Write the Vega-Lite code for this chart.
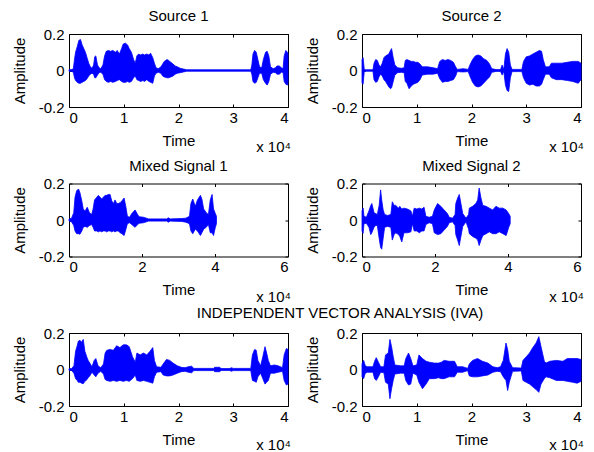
{
  "$schema": "https://vega.github.io/schema/vega-lite/v6.json",
  "padding": {"left": 11, "top": 8, "right": 5, "bottom": 3},
  "config": {
    "font": "Liberation Sans",
    "view": {"stroke": "#000000", "strokeWidth": 1},
    "title": {"fontSize": 15, "fontWeight": "normal", "color": "#000000", "offset": 3, "font": "Liberation Sans"},
    "axis": {"grid": false, "domain": false, "tickColor": "#000000", "tickSize": -3, "labelFontSize": 15, "labelColor": "#000000", "titleFontSize": 15, "titleFontWeight": "normal", "titleColor": "#000000", "labelFont": "Liberation Sans", "titleFont": "Liberation Sans"},
    "axisLeft": {"titlePadding": 11},
    "axisBottom": {"titlePadding": 8},
    "text": {"font": "Liberation Sans", "fontSize": 15, "color": "#000000"}
  },
  "datasets": {
    "s1": [
      {"t":0,"hi":0.004,"lo":-0.004},{"t":0.05,"hi":0.005,"lo":-0.005},{"t":0.08,"hi":0.01,"lo":-0.01},{"t":0.1,"hi":0.06,"lo":-0.04},{"t":0.12,"hi":0.1,"lo":-0.055},{"t":0.15,"hi":0.13,"lo":-0.065},{"t":0.18,"hi":0.165,"lo":-0.07},{"t":0.21,"hi":0.17,"lo":-0.07},{"t":0.24,"hi":0.14,"lo":-0.065},{"t":0.27,"hi":0.12,"lo":-0.06},{"t":0.3,"hi":0.1,"lo":-0.055},{"t":0.33,"hi":0.07,"lo":-0.045},{"t":0.36,"hi":0.04,"lo":-0.03},{"t":0.39,"hi":0.02,"lo":-0.02},{"t":0.42,"hi":0.012,"lo":-0.015},{"t":0.45,"hi":0.03,"lo":-0.02},{"t":0.47,"hi":0.075,"lo":-0.04},{"t":0.49,"hi":0.08,"lo":-0.04},{"t":0.52,"hi":0.03,"lo":-0.025},{"t":0.55,"hi":0.015,"lo":-0.012},{"t":0.58,"hi":0.01,"lo":-0.01},{"t":0.62,"hi":0.03,"lo":-0.02},{"t":0.65,"hi":0.08,"lo":-0.05},{"t":0.68,"hi":0.105,"lo":-0.06},{"t":0.72,"hi":0.11,"lo":-0.065},{"t":0.76,"hi":0.105,"lo":-0.06},{"t":0.8,"hi":0.11,"lo":-0.065},{"t":0.85,"hi":0.1,"lo":-0.06},{"t":0.88,"hi":0.11,"lo":-0.055},{"t":0.92,"hi":0.09,"lo":-0.05},{"t":0.96,"hi":0.12,"lo":-0.06},{"t":0.99,"hi":0.145,"lo":-0.065},{"t":1.03,"hi":0.15,"lo":-0.065},{"t":1.07,"hi":0.14,"lo":-0.06},{"t":1.1,"hi":0.12,"lo":-0.065},{"t":1.14,"hi":0.1,"lo":-0.06},{"t":1.18,"hi":0.06,"lo":-0.04},{"t":1.21,"hi":0.04,"lo":-0.03},{"t":1.24,"hi":0.08,"lo":-0.05},{"t":1.27,"hi":0.09,"lo":-0.055},{"t":1.31,"hi":0.085,"lo":-0.06},{"t":1.35,"hi":0.09,"lo":-0.055},{"t":1.38,"hi":0.085,"lo":-0.06},{"t":1.42,"hi":0.09,"lo":-0.05},{"t":1.46,"hi":0.085,"lo":-0.06},{"t":1.49,"hi":0.095,"lo":-0.065},{"t":1.53,"hi":0.07,"lo":-0.07},{"t":1.56,"hi":0.04,"lo":-0.03},{"t":1.59,"hi":0.015,"lo":-0.015},{"t":1.63,"hi":0.01,"lo":-0.01},{"t":1.68,"hi":0.02,"lo":-0.015},{"t":1.71,"hi":0.035,"lo":-0.03},{"t":1.74,"hi":0.05,"lo":-0.035},{"t":1.79,"hi":0.06,"lo":-0.04},{"t":1.82,"hi":0.055,"lo":-0.04},{"t":1.86,"hi":0.045,"lo":-0.035},{"t":1.9,"hi":0.035,"lo":-0.03},{"t":1.94,"hi":0.025,"lo":-0.02},{"t":1.98,"hi":0.02,"lo":-0.015},{"t":2.03,"hi":0.012,"lo":-0.012},{"t":2.09,"hi":0.008,"lo":-0.008},{"t":2.15,"hi":0.004,"lo":-0.004},{"t":3.32,"hi":0.004,"lo":-0.004},{"t":3.34,"hi":0.03,"lo":-0.02},{"t":3.36,"hi":0.09,"lo":-0.06},{"t":3.39,"hi":0.11,"lo":-0.07},{"t":3.42,"hi":0.1,"lo":-0.065},{"t":3.45,"hi":0.06,"lo":-0.04},{"t":3.48,"hi":0.02,"lo":-0.015},{"t":3.52,"hi":0.015,"lo":-0.015},{"t":3.55,"hi":0.06,"lo":-0.05},{"t":3.59,"hi":0.1,"lo":-0.07},{"t":3.62,"hi":0.105,"lo":-0.08},{"t":3.65,"hi":0.08,"lo":-0.06},{"t":3.68,"hi":0.02,"lo":-0.02},{"t":3.73,"hi":0.01,"lo":-0.01},{"t":3.77,"hi":0.015,"lo":-0.012},{"t":3.8,"hi":0.025,"lo":-0.02},{"t":3.84,"hi":0.025,"lo":-0.02},{"t":3.88,"hi":0.015,"lo":-0.01},{"t":3.91,"hi":0.01,"lo":-0.01},{"t":3.93,"hi":0.08,"lo":-0.06},{"t":3.96,"hi":0.11,"lo":-0.075},{"t":3.99,"hi":0.1,"lo":-0.08},{"t":4,"hi":0.09,"lo":-0.07}
    ],
    "s2": [
      {"t":0,"hi":0.06,"lo":-0.07},{"t":0.02,"hi":0.07,"lo":-0.075},{"t":0.04,"hi":0.01,"lo":-0.01},{"t":0.06,"hi":0.004,"lo":-0.004},{"t":0.2,"hi":0.004,"lo":-0.004},{"t":0.22,"hi":0.04,"lo":-0.05},{"t":0.25,"hi":0.06,"lo":-0.065},{"t":0.28,"hi":0.055,"lo":-0.06},{"t":0.31,"hi":0.03,"lo":-0.035},{"t":0.34,"hi":0.02,"lo":-0.02},{"t":0.37,"hi":0.04,"lo":-0.03},{"t":0.4,"hi":0.07,"lo":-0.05},{"t":0.43,"hi":0.08,"lo":-0.06},{"t":0.46,"hi":0.085,"lo":-0.075},{"t":0.49,"hi":0.09,"lo":-0.09},{"t":0.52,"hi":0.11,"lo":-0.1},{"t":0.54,"hi":0.12,"lo":-0.095},{"t":0.57,"hi":0.07,"lo":-0.06},{"t":0.6,"hi":0.03,"lo":-0.025},{"t":0.65,"hi":0.015,"lo":-0.012},{"t":0.72,"hi":0.012,"lo":-0.01},{"t":0.77,"hi":0.015,"lo":-0.012},{"t":0.79,"hi":0.055,"lo":-0.06},{"t":0.82,"hi":0.06,"lo":-0.07},{"t":0.86,"hi":0.055,"lo":-0.1},{"t":0.9,"hi":0.05,"lo":-0.085},{"t":0.94,"hi":0.05,"lo":-0.075},{"t":0.98,"hi":0.045,"lo":-0.07},{"t":1.02,"hi":0.045,"lo":-0.065},{"t":1.06,"hi":0.035,"lo":-0.05},{"t":1.1,"hi":0.02,"lo":-0.025},{"t":1.2,"hi":0.02,"lo":-0.02},{"t":1.3,"hi":0.015,"lo":-0.02},{"t":1.38,"hi":0.01,"lo":-0.015},{"t":1.42,"hi":0.05,"lo":-0.045},{"t":1.47,"hi":0.06,"lo":-0.065},{"t":1.52,"hi":0.055,"lo":-0.06},{"t":1.57,"hi":0.06,"lo":-0.06},{"t":1.62,"hi":0.055,"lo":-0.055},{"t":1.67,"hi":0.045,"lo":-0.05},{"t":1.71,"hi":0.02,"lo":-0.03},{"t":1.74,"hi":0.006,"lo":-0.006},{"t":1.85,"hi":0.01,"lo":-0.008},{"t":1.94,"hi":0.006,"lo":-0.006},{"t":1.97,"hi":0.03,"lo":-0.03},{"t":2.02,"hi":0.06,"lo":-0.065},{"t":2.07,"hi":0.08,"lo":-0.085},{"t":2.12,"hi":0.085,"lo":-0.09},{"t":2.17,"hi":0.08,"lo":-0.085},{"t":2.22,"hi":0.065,"lo":-0.07},{"t":2.28,"hi":0.055,"lo":-0.05},{"t":2.33,"hi":0.035,"lo":-0.035},{"t":2.37,"hi":0.01,"lo":-0.01},{"t":2.45,"hi":0.005,"lo":-0.005},{"t":2.53,"hi":0.005,"lo":-0.005},{"t":2.56,"hi":0.03,"lo":-0.025},{"t":2.59,"hi":0.005,"lo":-0.005},{"t":2.62,"hi":0.09,"lo":-0.08},{"t":2.65,"hi":0.12,"lo":-0.11},{"t":2.68,"hi":0.1,"lo":-0.115},{"t":2.71,"hi":0.03,"lo":-0.04},{"t":2.74,"hi":0.006,"lo":-0.006},{"t":2.92,"hi":0.006,"lo":-0.006},{"t":2.95,"hi":0.05,"lo":-0.04},{"t":3,"hi":0.075,"lo":-0.07},{"t":3.06,"hi":0.08,"lo":-0.08},{"t":3.12,"hi":0.09,"lo":-0.075},{"t":3.18,"hi":0.1,"lo":-0.085},{"t":3.24,"hi":0.11,"lo":-0.085},{"t":3.28,"hi":0.105,"lo":-0.075},{"t":3.31,"hi":0.06,"lo":-0.05},{"t":3.35,"hi":0.02,"lo":-0.02},{"t":3.42,"hi":0.02,"lo":-0.02},{"t":3.46,"hi":0.04,"lo":-0.04},{"t":3.55,"hi":0.04,"lo":-0.05},{"t":3.65,"hi":0.04,"lo":-0.05},{"t":3.75,"hi":0.045,"lo":-0.055},{"t":3.85,"hi":0.05,"lo":-0.06},{"t":3.95,"hi":0.05,"lo":-0.07},{"t":4,"hi":0.04,"lo":-0.05}
    ],
    "m1": [
      {"t":0,"hi":0.005,"lo":-0.005},{"t":0.07,"hi":0.01,"lo":-0.01},{"t":0.13,"hi":0.04,"lo":-0.03},{"t":0.165,"hi":0.125,"lo":-0.06},{"t":0.21,"hi":0.16,"lo":-0.075},{"t":0.26,"hi":0.17,"lo":-0.075},{"t":0.3,"hi":0.15,"lo":-0.078},{"t":0.35,"hi":0.105,"lo":-0.06},{"t":0.39,"hi":0.06,"lo":-0.04},{"t":0.44,"hi":0.05,"lo":-0.035},{"t":0.5,"hi":0.07,"lo":-0.04},{"t":0.56,"hi":0.04,"lo":-0.03},{"t":0.62,"hi":0.03,"lo":-0.025},{"t":0.66,"hi":0.06,"lo":-0.04},{"t":0.7,"hi":0.11,"lo":-0.06},{"t":0.76,"hi":0.125,"lo":-0.06},{"t":0.805,"hi":0.135,"lo":-0.065},{"t":0.85,"hi":0.125,"lo":-0.06},{"t":0.9,"hi":0.115,"lo":-0.065},{"t":0.94,"hi":0.125,"lo":-0.06},{"t":0.99,"hi":0.135,"lo":-0.06},{"t":1.03,"hi":0.135,"lo":-0.065},{"t":1.08,"hi":0.14,"lo":-0.06},{"t":1.125,"hi":0.14,"lo":-0.06},{"t":1.17,"hi":0.105,"lo":-0.065},{"t":1.22,"hi":0.09,"lo":-0.06},{"t":1.26,"hi":0.11,"lo":-0.065},{"t":1.31,"hi":0.09,"lo":-0.06},{"t":1.35,"hi":0.09,"lo":-0.06},{"t":1.4,"hi":0.095,"lo":-0.07},{"t":1.45,"hi":0.105,"lo":-0.075},{"t":1.51,"hi":0.12,"lo":-0.085},{"t":1.56,"hi":0.07,"lo":-0.05},{"t":1.6,"hi":0.02,"lo":-0.02},{"t":1.66,"hi":0.015,"lo":-0.015},{"t":1.72,"hi":0.035,"lo":-0.025},{"t":1.81,"hi":0.055,"lo":-0.04},{"t":1.88,"hi":0.03,"lo":-0.025},{"t":1.92,"hi":0.018,"lo":-0.018},{"t":2.04,"hi":0.015,"lo":-0.015},{"t":2.18,"hi":0.006,"lo":-0.006},{"t":2.68,"hi":0.006,"lo":-0.006},{"t":2.72,"hi":0.012,"lo":-0.012},{"t":2.77,"hi":0.006,"lo":-0.006},{"t":3.09,"hi":0.008,"lo":-0.008},{"t":3.2,"hi":0.01,"lo":-0.012},{"t":3.3,"hi":0.02,"lo":-0.02},{"t":3.34,"hi":0.09,"lo":-0.06},{"t":3.39,"hi":0.115,"lo":-0.075},{"t":3.46,"hi":0.075,"lo":-0.05},{"t":3.52,"hi":0.11,"lo":-0.06},{"t":3.6,"hi":0.135,"lo":-0.085},{"t":3.64,"hi":0.115,"lo":-0.07},{"t":3.69,"hi":0.06,"lo":-0.05},{"t":3.76,"hi":0.04,"lo":-0.04},{"t":3.82,"hi":0.03,"lo":-0.025},{"t":3.87,"hi":0.11,"lo":-0.07},{"t":3.92,"hi":0.14,"lo":-0.07},{"t":3.96,"hi":0.06,"lo":-0.085},{"t":4.01,"hi":0.035,"lo":-0.04},{"t":4.04,"hi":0.02,"lo":-0.02}
    ],
    "m2": [
      {"t":0,"hi":0.05,"lo":-0.06},{"t":0.03,"hi":0.065,"lo":-0.073},{"t":0.055,"hi":0.02,"lo":-0.02},{"t":0.12,"hi":0.015,"lo":-0.018},{"t":0.19,"hi":0.05,"lo":-0.04},{"t":0.24,"hi":0.08,"lo":-0.08},{"t":0.27,"hi":0.09,"lo":-0.07},{"t":0.33,"hi":0.04,"lo":-0.04},{"t":0.375,"hi":0.035,"lo":-0.03},{"t":0.42,"hi":0.03,"lo":-0.03},{"t":0.47,"hi":0.08,"lo":-0.1},{"t":0.51,"hi":0.165,"lo":-0.15},{"t":0.54,"hi":0.11,"lo":-0.16},{"t":0.58,"hi":0.055,"lo":-0.1},{"t":0.62,"hi":0.03,"lo":-0.04},{"t":0.7,"hi":0.025,"lo":-0.035},{"t":0.79,"hi":0.03,"lo":-0.04},{"t":0.83,"hi":0.1,"lo":-0.11},{"t":0.88,"hi":0.08,"lo":-0.08},{"t":0.925,"hi":0.08,"lo":-0.07},{"t":1,"hi":0.065,"lo":-0.08},{"t":1.035,"hi":0.075,"lo":-0.09},{"t":1.09,"hi":0.06,"lo":-0.12},{"t":1.15,"hi":0.065,"lo":-0.07},{"t":1.245,"hi":0.06,"lo":-0.07},{"t":1.34,"hi":0.05,"lo":-0.065},{"t":1.38,"hi":0.02,"lo":-0.02},{"t":1.43,"hi":0.065,"lo":-0.06},{"t":1.5,"hi":0.06,"lo":-0.06},{"t":1.57,"hi":0.065,"lo":-0.07},{"t":1.64,"hi":0.06,"lo":-0.06},{"t":1.7,"hi":0.07,"lo":-0.06},{"t":1.75,"hi":0.02,"lo":-0.025},{"t":1.84,"hi":0.015,"lo":-0.015},{"t":1.93,"hi":0.02,"lo":-0.02},{"t":1.98,"hi":0.055,"lo":-0.07},{"t":2.07,"hi":0.09,"lo":-0.08},{"t":2.16,"hi":0.075,"lo":-0.075},{"t":2.25,"hi":0.055,"lo":-0.055},{"t":2.34,"hi":0.035,"lo":-0.035},{"t":2.39,"hi":0.015,"lo":-0.015},{"t":2.48,"hi":0.01,"lo":-0.01},{"t":2.55,"hi":0.03,"lo":-0.03},{"t":2.57,"hi":0.09,"lo":-0.08},{"t":2.62,"hi":0.12,"lo":-0.11},{"t":2.665,"hi":0.14,"lo":-0.14},{"t":2.71,"hi":0.09,"lo":-0.09},{"t":2.76,"hi":0.035,"lo":-0.035},{"t":2.85,"hi":0.01,"lo":-0.01},{"t":2.92,"hi":0.03,"lo":-0.05},{"t":2.94,"hi":0.065,"lo":-0.075},{"t":3.03,"hi":0.075,"lo":-0.09},{"t":3.12,"hi":0.09,"lo":-0.1},{"t":3.17,"hi":0.11,"lo":-0.11},{"t":3.21,"hi":0.175,"lo":-0.14},{"t":3.26,"hi":0.12,"lo":-0.11},{"t":3.31,"hi":0.08,"lo":-0.085},{"t":3.4,"hi":0.075,"lo":-0.075},{"t":3.49,"hi":0.065,"lo":-0.065},{"t":3.58,"hi":0.055,"lo":-0.075},{"t":3.67,"hi":0.075,"lo":-0.075},{"t":3.76,"hi":0.065,"lo":-0.065},{"t":3.86,"hi":0.065,"lo":-0.075},{"t":3.95,"hi":0.055,"lo":-0.085},{"t":4.02,"hi":0.035,"lo":-0.04},{"t":4.06,"hi":0.02,"lo":-0.02}
    ],
    "i1": [
      {"t":0,"hi":0.004,"lo":-0.004},{"t":0.05,"hi":0.006,"lo":-0.006},{"t":0.09,"hi":0.02,"lo":-0.02},{"t":0.12,"hi":0.1,"lo":-0.05},{"t":0.15,"hi":0.13,"lo":-0.06},{"t":0.17,"hi":0.155,"lo":-0.07},{"t":0.2,"hi":0.16,"lo":-0.07},{"t":0.23,"hi":0.15,"lo":-0.075},{"t":0.26,"hi":0.165,"lo":-0.078},{"t":0.29,"hi":0.1,"lo":-0.065},{"t":0.33,"hi":0.065,"lo":-0.055},{"t":0.35,"hi":0.05,"lo":-0.045},{"t":0.38,"hi":0.035,"lo":-0.035},{"t":0.42,"hi":0.015,"lo":-0.015},{"t":0.46,"hi":0.05,"lo":-0.03},{"t":0.49,"hi":0.06,"lo":-0.04},{"t":0.53,"hi":0.02,"lo":-0.02},{"t":0.58,"hi":0.01,"lo":-0.01},{"t":0.63,"hi":0.03,"lo":-0.025},{"t":0.66,"hi":0.09,"lo":-0.055},{"t":0.69,"hi":0.105,"lo":-0.06},{"t":0.75,"hi":0.11,"lo":-0.065},{"t":0.81,"hi":0.105,"lo":-0.06},{"t":0.87,"hi":0.13,"lo":-0.065},{"t":0.93,"hi":0.12,"lo":-0.06},{"t":0.99,"hi":0.135,"lo":-0.065},{"t":1.05,"hi":0.135,"lo":-0.06},{"t":1.1,"hi":0.125,"lo":-0.065},{"t":1.16,"hi":0.07,"lo":-0.05},{"t":1.21,"hi":0.04,"lo":-0.03},{"t":1.24,"hi":0.09,"lo":-0.06},{"t":1.3,"hi":0.08,"lo":-0.065},{"t":1.36,"hi":0.09,"lo":-0.06},{"t":1.42,"hi":0.08,"lo":-0.065},{"t":1.48,"hi":0.1,"lo":-0.07},{"t":1.53,"hi":0.12,"lo":-0.075},{"t":1.56,"hi":0.05,"lo":-0.04},{"t":1.6,"hi":0.015,"lo":-0.015},{"t":1.68,"hi":0.012,"lo":-0.012},{"t":1.72,"hi":0.03,"lo":-0.03},{"t":1.78,"hi":0.055,"lo":-0.035},{"t":1.84,"hi":0.05,"lo":-0.035},{"t":1.9,"hi":0.035,"lo":-0.03},{"t":1.98,"hi":0.02,"lo":-0.02},{"t":2.05,"hi":0.012,"lo":-0.012},{"t":2.12,"hi":0.01,"lo":-0.01},{"t":2.18,"hi":0.015,"lo":-0.015},{"t":2.24,"hi":0.018,"lo":-0.018},{"t":2.28,"hi":0.006,"lo":-0.006},{"t":2.64,"hi":0.006,"lo":-0.006},{"t":2.66,"hi":0.012,"lo":-0.012},{"t":2.75,"hi":0.012,"lo":-0.012},{"t":2.78,"hi":0.005,"lo":-0.005},{"t":2.94,"hi":0.005,"lo":-0.005},{"t":2.96,"hi":0.01,"lo":-0.01},{"t":3,"hi":0.006,"lo":-0.006},{"t":3.32,"hi":0.006,"lo":-0.006},{"t":3.35,"hi":0.08,"lo":-0.06},{"t":3.39,"hi":0.11,"lo":-0.065},{"t":3.42,"hi":0.105,"lo":-0.07},{"t":3.45,"hi":0.05,"lo":-0.04},{"t":3.5,"hi":0.02,"lo":-0.02},{"t":3.54,"hi":0.07,"lo":-0.05},{"t":3.58,"hi":0.125,"lo":-0.08},{"t":3.61,"hi":0.09,"lo":-0.07},{"t":3.64,"hi":0.05,"lo":-0.06},{"t":3.68,"hi":0.02,"lo":-0.02},{"t":3.75,"hi":0.025,"lo":-0.02},{"t":3.82,"hi":0.02,"lo":-0.015},{"t":3.9,"hi":0.01,"lo":-0.01},{"t":3.93,"hi":0.08,"lo":-0.06},{"t":3.97,"hi":0.115,"lo":-0.085},{"t":4,"hi":0.11,"lo":-0.08}
    ],
    "i2": [
      {"t":0,"hi":0.03,"lo":-0.04},{"t":0.03,"hi":0.05,"lo":-0.05},{"t":0.06,"hi":0.02,"lo":-0.02},{"t":0.1,"hi":0.015,"lo":-0.015},{"t":0.2,"hi":0.015,"lo":-0.015},{"t":0.23,"hi":0.045,"lo":-0.05},{"t":0.26,"hi":0.065,"lo":-0.06},{"t":0.3,"hi":0.04,"lo":-0.04},{"t":0.34,"hi":0.015,"lo":-0.015},{"t":0.4,"hi":0.015,"lo":-0.018},{"t":0.43,"hi":0.08,"lo":-0.07},{"t":0.48,"hi":0.09,"lo":-0.08},{"t":0.51,"hi":0.165,"lo":-0.16},{"t":0.54,"hi":0.125,"lo":-0.105},{"t":0.57,"hi":0.07,"lo":-0.06},{"t":0.6,"hi":0.025,"lo":-0.025},{"t":0.7,"hi":0.02,"lo":-0.02},{"t":0.77,"hi":0.02,"lo":-0.02},{"t":0.8,"hi":0.06,"lo":-0.06},{"t":0.85,"hi":0.09,"lo":-0.085},{"t":0.89,"hi":0.06,"lo":-0.08},{"t":0.93,"hi":0.02,"lo":-0.02},{"t":1,"hi":0.025,"lo":-0.03},{"t":1.04,"hi":0.08,"lo":-0.07},{"t":1.105,"hi":0.06,"lo":-0.105},{"t":1.17,"hi":0.045,"lo":-0.08},{"t":1.23,"hi":0.04,"lo":-0.05},{"t":1.32,"hi":0.035,"lo":-0.05},{"t":1.4,"hi":0.035,"lo":-0.045},{"t":1.45,"hi":0.04,"lo":-0.05},{"t":1.5,"hi":0.05,"lo":-0.05},{"t":1.59,"hi":0.045,"lo":-0.04},{"t":1.69,"hi":0.045,"lo":-0.04},{"t":1.74,"hi":0.015,"lo":-0.015},{"t":1.84,"hi":0.015,"lo":-0.015},{"t":1.93,"hi":0.006,"lo":-0.006},{"t":1.96,"hi":0.03,"lo":-0.035},{"t":2.02,"hi":0.05,"lo":-0.04},{"t":2.11,"hi":0.06,"lo":-0.04},{"t":2.2,"hi":0.045,"lo":-0.035},{"t":2.3,"hi":0.035,"lo":-0.03},{"t":2.39,"hi":0.015,"lo":-0.015},{"t":2.47,"hi":0.01,"lo":-0.01},{"t":2.53,"hi":0.015,"lo":-0.012},{"t":2.58,"hi":0.05,"lo":-0.04},{"t":2.63,"hi":0.145,"lo":-0.06},{"t":2.66,"hi":0.11,"lo":-0.115},{"t":2.69,"hi":0.045,"lo":-0.07},{"t":2.75,"hi":0.01,"lo":-0.01},{"t":2.91,"hi":0.008,"lo":-0.008},{"t":2.94,"hi":0.05,"lo":-0.06},{"t":3,"hi":0.07,"lo":-0.07},{"t":3.06,"hi":0.09,"lo":-0.08},{"t":3.12,"hi":0.12,"lo":-0.095},{"t":3.18,"hi":0.145,"lo":-0.11},{"t":3.23,"hi":0.18,"lo":-0.125},{"t":3.27,"hi":0.125,"lo":-0.08},{"t":3.33,"hi":0.045,"lo":-0.05},{"t":3.36,"hi":0.035,"lo":-0.04},{"t":3.43,"hi":0.045,"lo":-0.045},{"t":3.55,"hi":0.05,"lo":-0.06},{"t":3.67,"hi":0.045,"lo":-0.06},{"t":3.75,"hi":0.06,"lo":-0.065},{"t":3.85,"hi":0.06,"lo":-0.07},{"t":3.93,"hi":0.06,"lo":-0.075},{"t":4,"hi":0.055,"lo":-0.065}
    ]
  },
  "bounds": "flush",
  "spacing": 149.5,
  "vconcat": [
    {
      "bounds": "flush",
      "spacing": 74,
      "hconcat": [
        {
          "width": 219, "height": 73, "title": "Source 1",
          "layer": [
            {"data": {"name": "s1"}, "mark": {"type": "area", "color": "#0000ff", "stroke": "#0000ff", "strokeWidth": 0.8},
             "encoding": {
               "x": {"field": "t", "type": "quantitative", "title": "Time", "scale": {"domain": [0, 4], "nice": false, "zero": false}, "axis": {"orient": "bottom", "values": [0, 1, 2, 3, 4], "labelExpr": "'' + datum.value", "labelPadding": 6}},
               "y": {"field": "hi", "type": "quantitative", "title": "Amplitude", "scale": {"domain": [-0.2, 0.2], "nice": false, "zero": false}, "axis": {"orient": "left", "values": [-0.2, 0, 0.2], "labelExpr": "'' + datum.value", "labelPadding": 8}},
               "y2": {"field": "lo"}}},
            {"data": {"values": [{"t": 4, "a": -0.2, "lbl": "x 10⁴"}]}, "mark": {"type": "text", "align": "right", "baseline": "alphabetic", "dy": 45, "dx": 3},
             "encoding": {
               "x": {"field": "t", "type": "quantitative", "axis": {"orient": "top", "values": [0, 1, 2, 3, 4], "labels": false, "title": null}},
               "y": {"field": "a", "type": "quantitative", "axis": {"orient": "right", "values": [-0.2, 0, 0.2], "labels": false, "title": null}},
               "text": {"field": "lbl"}}}
          ],
          "resolve": {"axis": {"x": "independent", "y": "independent"}}
        },
        {
          "width": 219, "height": 73, "title": "Source 2",
          "layer": [
            {"data": {"name": "s2"}, "mark": {"type": "area", "color": "#0000ff", "stroke": "#0000ff", "strokeWidth": 0.8},
             "encoding": {
               "x": {"field": "t", "type": "quantitative", "title": "Time", "scale": {"domain": [0, 4], "nice": false, "zero": false}, "axis": {"orient": "bottom", "values": [0, 1, 2, 3, 4], "labelExpr": "'' + datum.value", "labelPadding": 6}},
               "y": {"field": "hi", "type": "quantitative", "title": "Amplitude", "scale": {"domain": [-0.2, 0.2], "nice": false, "zero": false}, "axis": {"orient": "left", "values": [-0.2, 0, 0.2], "labelExpr": "'' + datum.value", "labelPadding": 8}},
               "y2": {"field": "lo"}}},
            {"data": {"values": [{"t": 4, "a": -0.2, "lbl": "x 10⁴"}]}, "mark": {"type": "text", "align": "right", "baseline": "alphabetic", "dy": 45, "dx": 3},
             "encoding": {
               "x": {"field": "t", "type": "quantitative", "axis": {"orient": "top", "values": [0, 1, 2, 3, 4], "labels": false, "title": null}},
               "y": {"field": "a", "type": "quantitative", "axis": {"orient": "right", "values": [-0.2, 0, 0.2], "labels": false, "title": null}},
               "text": {"field": "lbl"}}}
          ],
          "resolve": {"axis": {"x": "independent", "y": "independent"}}
        }
      ]
    },
    {
      "bounds": "flush",
      "spacing": 74,
      "hconcat": [
        {
          "width": 219, "height": 73, "title": "Mixed Signal 1",
          "layer": [
            {"data": {"name": "m1"}, "mark": {"type": "area", "color": "#0000ff", "stroke": "#0000ff", "strokeWidth": 0.8},
             "encoding": {
               "x": {"field": "t", "type": "quantitative", "title": "Time", "scale": {"domain": [0, 6], "nice": false, "zero": false}, "axis": {"orient": "bottom", "values": [0, 2, 4, 6], "labelExpr": "'' + datum.value", "labelPadding": 6}},
               "y": {"field": "hi", "type": "quantitative", "title": "Amplitude", "scale": {"domain": [-0.2, 0.2], "nice": false, "zero": false}, "axis": {"orient": "left", "values": [-0.2, 0, 0.2], "labelExpr": "'' + datum.value", "labelPadding": 8}},
               "y2": {"field": "lo"}}},
            {"data": {"values": [{"t": 6, "a": -0.2, "lbl": "x 10⁴"}]}, "mark": {"type": "text", "align": "right", "baseline": "alphabetic", "dy": 45, "dx": 3},
             "encoding": {
               "x": {"field": "t", "type": "quantitative", "axis": {"orient": "top", "values": [0, 2, 4, 6], "labels": false, "title": null}},
               "y": {"field": "a", "type": "quantitative", "axis": {"orient": "right", "values": [-0.2, 0, 0.2], "labels": false, "title": null}},
               "text": {"field": "lbl"}}}
          ],
          "resolve": {"axis": {"x": "independent", "y": "independent"}}
        },
        {
          "width": 219, "height": 73, "title": "Mixed Signal 2",
          "layer": [
            {"data": {"name": "m2"}, "mark": {"type": "area", "color": "#0000ff", "stroke": "#0000ff", "strokeWidth": 0.8},
             "encoding": {
               "x": {"field": "t", "type": "quantitative", "title": "Time", "scale": {"domain": [0, 6], "nice": false, "zero": false}, "axis": {"orient": "bottom", "values": [0, 2, 4, 6], "labelExpr": "'' + datum.value", "labelPadding": 6}},
               "y": {"field": "hi", "type": "quantitative", "title": "Amplitude", "scale": {"domain": [-0.2, 0.2], "nice": false, "zero": false}, "axis": {"orient": "left", "values": [-0.2, 0, 0.2], "labelExpr": "'' + datum.value", "labelPadding": 8}},
               "y2": {"field": "lo"}}},
            {"data": {"values": [{"t": 6, "a": -0.2, "lbl": "x 10⁴"}]}, "mark": {"type": "text", "align": "right", "baseline": "alphabetic", "dy": 45, "dx": 3},
             "encoding": {
               "x": {"field": "t", "type": "quantitative", "axis": {"orient": "top", "values": [0, 2, 4, 6], "labels": false, "title": null}},
               "y": {"field": "a", "type": "quantitative", "axis": {"orient": "right", "values": [-0.2, 0, 0.2], "labels": false, "title": null}},
               "text": {"field": "lbl"}}}
          ],
          "resolve": {"axis": {"x": "independent", "y": "independent"}}
        }
      ]
    },
    {
      "bounds": "flush",
      "spacing": 74,
      "title": {"text": "INDEPENDENT VECTOR ANALYSIS (IVA)", "anchor": "middle", "dx": 42, "offset": 5},
      "hconcat": [
        {
          "width": 219, "height": 73,
          "layer": [
            {"data": {"name": "i1"}, "mark": {"type": "area", "color": "#0000ff", "stroke": "#0000ff", "strokeWidth": 0.8},
             "encoding": {
               "x": {"field": "t", "type": "quantitative", "title": "Time", "scale": {"domain": [0, 4], "nice": false, "zero": false}, "axis": {"orient": "bottom", "values": [0, 1, 2, 3, 4], "labelExpr": "'' + datum.value", "labelPadding": 6}},
               "y": {"field": "hi", "type": "quantitative", "title": "Amplitude", "scale": {"domain": [-0.2, 0.2], "nice": false, "zero": false}, "axis": {"orient": "left", "values": [-0.2, 0, 0.2], "labelExpr": "'' + datum.value", "labelPadding": 8}},
               "y2": {"field": "lo"}}},
            {"data": {"values": [{"t": 4, "a": -0.2, "lbl": "x 10⁴"}]}, "mark": {"type": "text", "align": "right", "baseline": "alphabetic", "dy": 44, "dx": 3},
             "encoding": {
               "x": {"field": "t", "type": "quantitative", "axis": {"orient": "top", "values": [0, 1, 2, 3, 4], "labels": false, "title": null}},
               "y": {"field": "a", "type": "quantitative", "axis": {"orient": "right", "values": [-0.2, 0, 0.2], "labels": false, "title": null}},
               "text": {"field": "lbl"}}}
          ],
          "resolve": {"axis": {"x": "independent", "y": "independent"}}
        },
        {
          "width": 219, "height": 73,
          "layer": [
            {"data": {"name": "i2"}, "mark": {"type": "area", "color": "#0000ff", "stroke": "#0000ff", "strokeWidth": 0.8},
             "encoding": {
               "x": {"field": "t", "type": "quantitative", "title": "Time", "scale": {"domain": [0, 4], "nice": false, "zero": false}, "axis": {"orient": "bottom", "values": [0, 1, 2, 3, 4], "labelExpr": "'' + datum.value", "labelPadding": 6}},
               "y": {"field": "hi", "type": "quantitative", "title": "Amplitude", "scale": {"domain": [-0.2, 0.2], "nice": false, "zero": false}, "axis": {"orient": "left", "values": [-0.2, 0, 0.2], "labelExpr": "'' + datum.value", "labelPadding": 8}},
               "y2": {"field": "lo"}}},
            {"data": {"values": [{"t": 4, "a": -0.2, "lbl": "x 10⁴"}]}, "mark": {"type": "text", "align": "right", "baseline": "alphabetic", "dy": 44, "dx": 3},
             "encoding": {
               "x": {"field": "t", "type": "quantitative", "axis": {"orient": "top", "values": [0, 1, 2, 3, 4], "labels": false, "title": null}},
               "y": {"field": "a", "type": "quantitative", "axis": {"orient": "right", "values": [-0.2, 0, 0.2], "labels": false, "title": null}},
               "text": {"field": "lbl"}}}
          ],
          "resolve": {"axis": {"x": "independent", "y": "independent"}}
        }
      ]
    }
  ]
}
